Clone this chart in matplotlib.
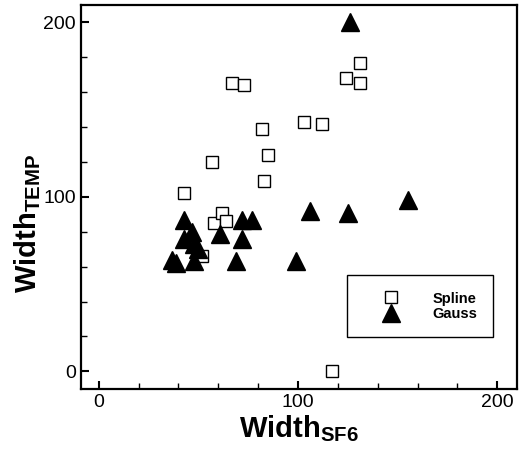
import numpy as np
import matplotlib
matplotlib.use("Agg")
import matplotlib.pyplot as plt
from matplotlib.ticker import MultipleLocator

plt.rcParams['font.family'] = ['Liberation Sans', 'DejaVu Sans']
plt.rcParams['mathtext.fontset'] = 'custom'
plt.rcParams['mathtext.rm'] = 'Liberation Sans'
plt.rcParams['mathtext.bf'] = 'Liberation Sans:bold'

# dados
spline_x = [67, 73, 57, 43, 82, 85, 83, 103, 112, 131, 124, 131, 58, 62, 64, 52, 117]
spline_y = [165, 164, 120, 102, 139, 124, 109, 143, 142, 177, 168, 165, 85, 91, 86, 66, 0]

gauss_x = [126, 155, 125, 106, 99, 77, 72, 72, 69, 61, 43, 47, 48, 50, 43, 37, 39, 48]
gauss_y = [200, 98, 91, 92, 63, 87, 87, 76, 63, 79, 87, 80, 73, 70, 76, 64, 62, 63]

fig = plt.figure(figsize=(5.25, 4.49), dpi=100)
ax = fig.add_axes([0.154, 0.134, 0.831, 0.855])

ax.plot(spline_x, spline_y, linestyle='none', marker='s', ms=9, mfc='white',
        mec='black', mew=1.0, label='Spline')
ax.plot(gauss_x, gauss_y, linestyle='none', marker='^', ms=13.5, mfc='black',
        mec='black', label='Gauss')

ax.set_xlim(-9, 210)
ax.set_ylim(-10, 210)
ax.xaxis.set_major_locator(MultipleLocator(100))
ax.yaxis.set_major_locator(MultipleLocator(100))
ax.xaxis.set_minor_locator(MultipleLocator(20))
ax.yaxis.set_minor_locator(MultipleLocator(20))
ax.tick_params(which='both', direction='in', top=False, right=False, labelsize=14)
ax.tick_params(which='major', length=6, width=1.5)
ax.tick_params(which='minor', length=4, width=1.0)
for s in ax.spines.values():
    s.set_linewidth(1.6)

ax.set_xlabel(r'$\mathbf{Width}_{\mathbf{SF6}}$', fontsize=21, labelpad=2)
ax.set_ylabel(r'$\mathbf{Width}_{\mathbf{TEMP}}$', fontsize=21)
ax.yaxis.set_label_coords(-0.087, 0.43)

leg = ax.legend(loc='lower left', bbox_to_anchor=(0.61, 0.135), fancybox=False,
                edgecolor='black', framealpha=1, borderpad=1.1, handlelength=3.9,
                handletextpad=0.85, labelspacing=0.1, borderaxespad=0,
                prop={'weight': 'bold', 'size': 10.5})
leg.get_frame().set_linewidth(1.0)

fig.savefig('out.png', dpi=100)
